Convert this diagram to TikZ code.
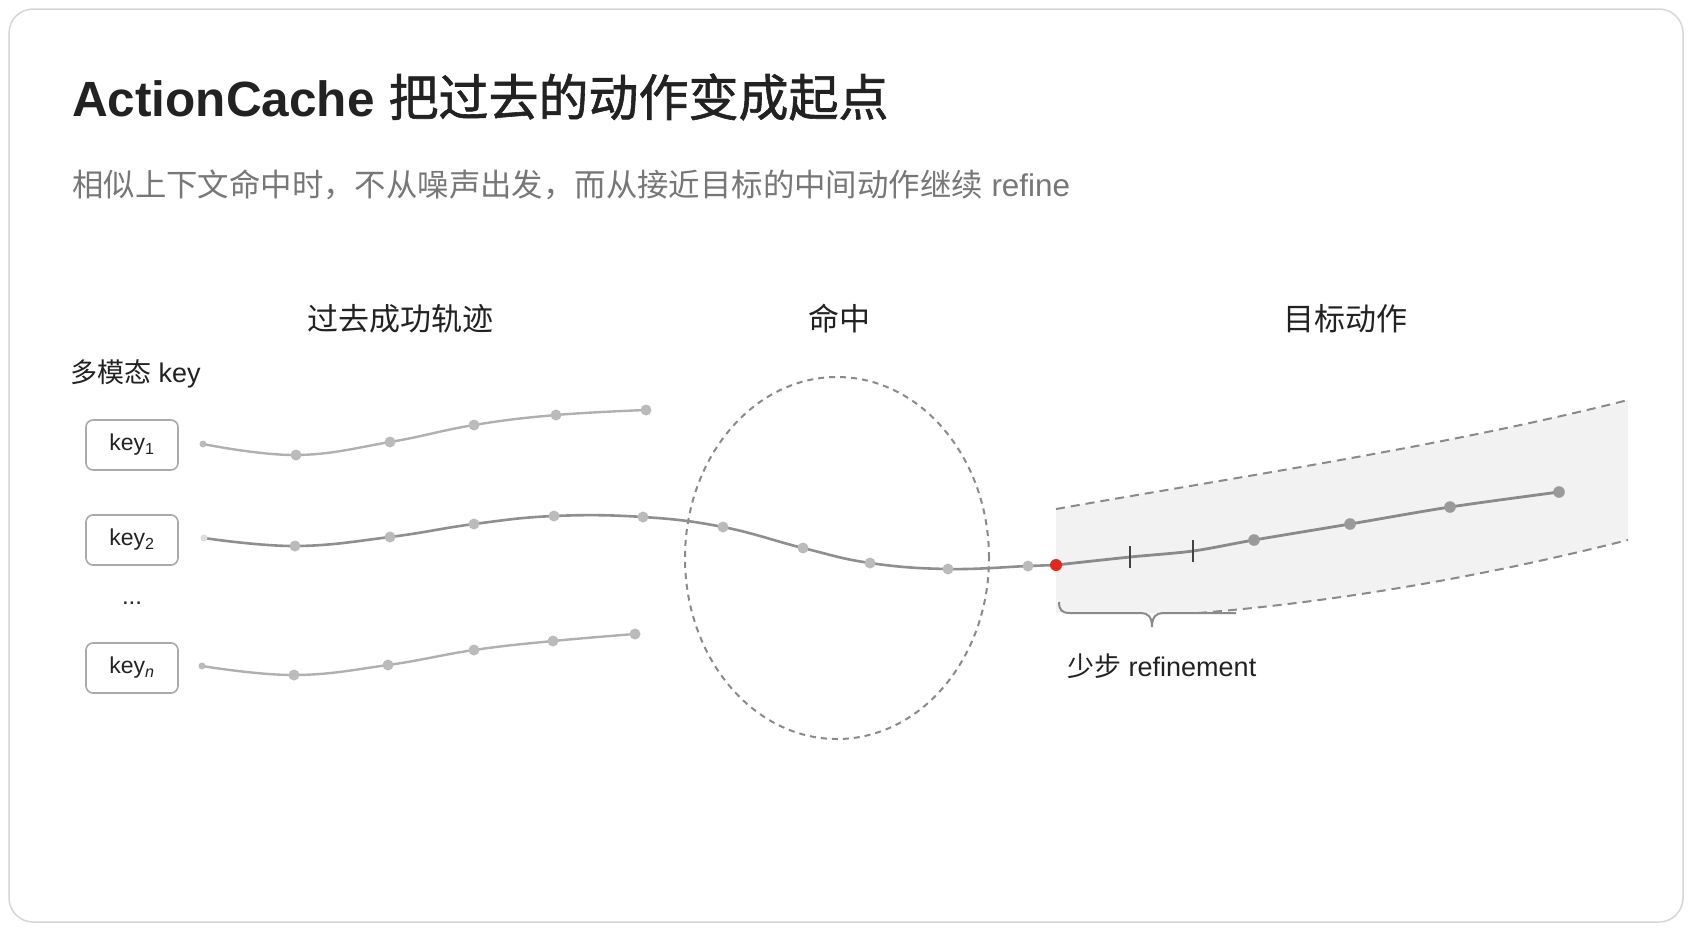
\documentclass[tikz,border=0pt]{standalone}
\usepackage{fontspec}
\setmainfont{Liberation Sans}
\newfontfamily\cjk{Noto Sans CJK SC}
\newfontfamily\cjkheavy[FakeBold=1.2]{Noto Sans CJK SC}
\newcommand{\zh}[1]{{\cjk #1}}
\definecolor{ink}{HTML}{222222}
\definecolor{subink}{HTML}{777777}
\definecolor{cardline}{HTML}{D6D6D6}
\definecolor{boxgray}{HTML}{AAAAAA}
\definecolor{lightline}{HTML}{B0B0B0}
\definecolor{midline}{HTML}{8F8F8F}
\definecolor{darkline}{HTML}{8A8A8A}
\definecolor{lightdot}{HTML}{BBBBBB}
\definecolor{darkdot}{HTML}{9A9A9A}
\definecolor{hitred}{HTML}{E0291B}
\definecolor{bandgray}{HTML}{F2F2F2}

\begin{document}
\begin{tikzpicture}[x=1pt,y=-1pt]
	\tikzstyle{every node}+=[inner sep=0pt]
	\tikzstyle{keybox}=[draw=boxgray, line width=1.6pt, rounded corners=7pt, minimum width=92pt, minimum height=50pt, text=ink, font=\fontsize{23}{26}\selectfont]
	\tikzstyle{heading}=[anchor=base, text=ink, font=\fontsize{31}{36}\selectfont\cjk]
	\tikzstyle{trajlight}=[lightline, line width=2.4pt]
	\tikzstyle{trajmid}=[midline, line width=2.6pt]
	\tikzstyle{trajdark}=[darkline, line width=2.8pt]
	\tikzstyle{dashgray}=[darkline, line width=2pt, dash pattern=on 6pt off 5pt]
	\useasboundingbox (0,0) rectangle (1693,929);
	\draw [cardline, fill=white, line width=1.5pt, rounded corners=24pt] (9,9) rectangle (1683,922);
	\node [anchor=base west, text=ink, font=\fontsize{49.5}{56}\selectfont] (title) at (72,116) {\textbf{ActionCache} {\cjkheavy\fontsize{50}{56}\selectfont 把过去的动作变成起点}};
	\node [anchor=base west, text=subink, font=\fontsize{31.4}{36}\selectfont] (subtitle) at (72,196) {\zh{相似上下文命中时，不从噪声出发，而从接近目标的中间动作继续} refine};
	\node [heading] (pasthead) at (400,330) {过去成功轨迹};
	\node [heading] (hithead) at (839,330) {命中};
	\node [heading] (goalhead) at (1345,330) {目标动作};
	\node [anchor=base west, text=ink, font=\fontsize{27}{31}\selectfont] (keyhead) at (70,382) {\zh{多模态} key};
	\node [keybox] (key1) at (132,445) {key\textsubscript{1}};
	\node [keybox] (key2) at (132,540) {key\textsubscript{2}};
	\node [text=ink, font=\fontsize{24}{26}\selectfont] (keydots) at (132,603) {...};
	\node [keybox] (keyn) at (132,668) {key\textsubscript{\itshape n}};
	\coordinate (a0) at (203,444);
	\coordinate (a1) at (296,455);
	\coordinate (a2) at (390,442);
	\coordinate (a3) at (474,425);
	\coordinate (a4) at (556,415);
	\coordinate (a5) at (646,410);
	\coordinate (b0) at (204,538);
	\coordinate (b1) at (295,546);
	\coordinate (b2) at (390,537);
	\coordinate (b3) at (474,524);
	\coordinate (b4) at (554,516);
	\coordinate (b5) at (643,517);
	\coordinate (b6) at (723,527);
	\coordinate (b7) at (803,548);
	\coordinate (b8) at (870,563);
	\coordinate (b9) at (948,569);
	\coordinate (b10) at (1028,566);
	\coordinate (hit) at (1056,565);
	\coordinate (t1) at (1130,557);
	\coordinate (t2) at (1193,551);
	\coordinate (c1) at (1254,540);
	\coordinate (c2) at (1350,524);
	\coordinate (c3) at (1450,507);
	\coordinate (c4) at (1559,492);
	\coordinate (n0) at (202,666);
	\coordinate (n1) at (294,675);
	\coordinate (n2) at (388,665);
	\coordinate (n3) at (474,650);
	\coordinate (n4) at (553,641);
	\coordinate (n5) at (635,634);
	\coordinate (bandtl) at (1056,509);
	\coordinate (bandtr) at (1628,400);
	\coordinate (bandbr) at (1628,540);
	\coordinate (bandbm) at (1198,613);
	\coordinate (bandbl) at (1056,613);
	\fill [bandgray] (bandtl) .. controls (1250,475) and (1450,445) .. (bandtr) -- (bandbr) .. controls (1450,585) and (1300,605) .. (bandbm) -- (bandbl) -- cycle;
	\draw [dashgray, dash pattern=on 9pt off 6pt] (bandtl) .. controls (1250,475) and (1450,445) .. (bandtr);
	\draw [dashgray, dash pattern=on 9pt off 6pt] (bandbm) .. controls (1300,605) and (1450,585) .. (bandbr);
	\draw [dashgray] (837,558) ellipse [x radius=152pt, y radius=181pt];
	\draw [darkline, line width=2pt] (1059,602) .. controls (1059,610) and (1062,613) .. (1070,613) -- (1141,613) .. controls (1148,613) and (1152,617) .. (1152,627) .. controls (1152,617) and (1156,613) .. (1163,613) -- (1236,613);
	\node [anchor=base west, text=ink, font=\fontsize{27}{31}\selectfont] (refinelabel) at (1067,676) {\zh{少步} refinement};
	\draw [trajlight] plot [smooth, tension=0.7] coordinates {(a0) (a1) (a2) (a3) (a4) (a5)};
	\draw [trajlight] plot [smooth, tension=0.7] coordinates {(n0) (n1) (n2) (n3) (n4) (n5)};
	\draw [trajmid] plot [smooth, tension=0.7] coordinates {(b0) (b1) (b2) (b3) (b4) (b5) (b6) (b7) (b8) (b9) (b10) (hit)};
	\draw [trajdark] plot [smooth, tension=0.5] coordinates {(hit) (t1) (t2) (c1) (c2) (c3) (c4)};
	\foreach \p in {t1,t2}
		\draw [ink!85, line width=2pt] ([yshift=-11pt]\p) -- ([yshift=11pt]\p);
	\foreach \p in {a1,a2,a3,a4,a5,n1,n2,n3,n4,n5,b1,b2,b3,b4,b5,b6,b7,b8,b9,b10}
		\fill [lightdot] (\p) circle (5.5pt);
	\foreach \p in {c1,c2,c3,c4}
		\fill [darkdot] (\p) circle (5.8pt);
	\fill [lightdot] (a0) circle (3.5pt);
	\fill [lightdot] (n0) circle (3.5pt);
	\fill [lightdot!50] (b0) circle (3.5pt);
	\fill [hitred] (hit) circle (6pt);
\end{tikzpicture}
\end{document}
